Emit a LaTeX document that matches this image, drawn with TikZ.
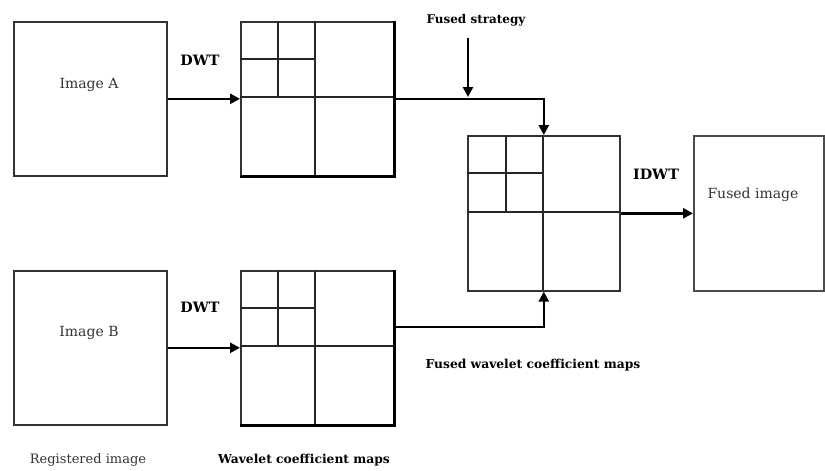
\documentclass[tikz,border=0pt]{standalone}
\usepackage{fontspec}
\setmainfont{DejaVu Serif}
\usetikzlibrary{arrows.meta,calc}
\begin{document}
\begin{tikzpicture}[x=1pt,y=-1pt,
  box/.style={draw=black!80,line width=1.6pt,minimum width=153pt,minimum height=154pt,inner sep=0pt,anchor=north west},
  grid/.style={draw=black!85,line width=1.3pt},
  conn/.style={draw=black,line width=2.6pt,-{Triangle[length=10pt,width=10pt]}},
  lab/.style={font=\fontsize{14}{16}\selectfont,text=black!80,inner sep=0pt},
  blab/.style={font=\bfseries\fontsize{12.3}{14}\selectfont,inner sep=0pt},
  dlab/.style={font=\bfseries\fontsize{14.3}{16}\selectfont,inner sep=0pt}]
\useasboundingbox (0,0) rectangle (825,471);
% boxes
\node[box] (imA) at (13,21) {};
\node[box] (imB) at (13,270) {};
\node[box] (mA) at (240,21) {};
\node[box] (mB) at (240,270) {};
\node[box,minimum width=152pt,minimum height=155pt] (fM) at (467,135) {};
\node[box,minimum width=130pt,minimum height=155pt,draw=black!70] (fI) at (693,135) {};
% thick shadows on maps
\draw[line width=3pt] (mA.north east) -- (mA.south east) -- (mA.south west);
\draw[line width=3pt] (mB.north east) -- (mB.south east) -- (mB.south west);
% grids map A
\draw[grid] (315,21) -- (315,175) (240,97) -- (393,97) (278,21) -- (278,97) (240,59) -- (315,59);
% grids map B
\draw[grid] (315,270) -- (315,424) (240,346) -- (393,346) (278,270) -- (278,346) (240,308) -- (315,308);
% grids fused map
\draw[grid] (543,135) -- (543,290) (467,212) -- (619,212) (506,135) -- (506,212) (467,173) -- (543,173);
% labels
\node[lab] (tA) at (89,85) {Image A};
\node[lab] (tB) at (89,333) {Image B};
\node[lab] (tF) at (753,195) {Fused image};
\node[dlab] (dA) at (200,60) {DWT};
\node[dlab] (dB) at (200,307) {DWT};
\node[dlab] (id) at (656,174) {IDWT};
\node[blab,font=\bfseries\fontsize{12}{14}\selectfont] (fs) at (476,20) {Fused strategy};
\node[blab] (fw) at (533,365) {Fused wavelet coefficient maps};
\node[lab,font=\fontsize{13}{15}\selectfont] (reg) at (88,460) {Registered image};
\node[blab] (wcm) at (304,460) {Wavelet coefficient maps};
% connectors
\coordinate (fsTop) at (468,38);
\coordinate (fsJoin) at (468,97);
\coordinate (bOut) at (393,327);
\draw[conn] (imA.east) -- (mA.west);
\draw[conn] (imB.east) -- (mB.west);
\draw[conn] (mA.east) -| (fM.north);
\draw[conn] (bOut) -| (fM.south);
\draw[conn] (fsTop) -- (fsJoin);
\draw[conn] (fM.east) -- (fI.west);
\end{tikzpicture}
\end{document}
